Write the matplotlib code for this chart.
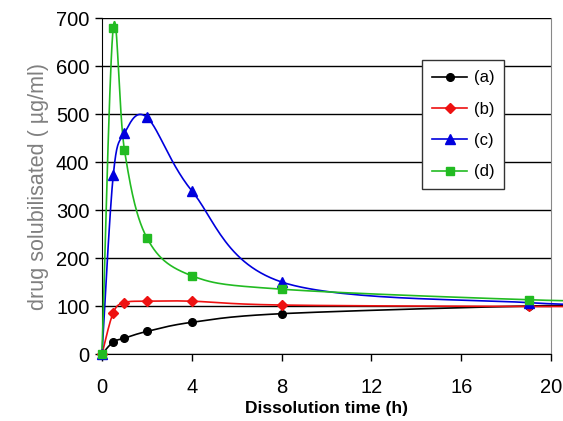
import numpy as np
import matplotlib.pyplot as plt

plt.rcParams["font.family"] = ["Liberation Sans", "DejaVu Sans"]

time_h = [0, 0.5, 1, 2, 4, 8, 19, 24]
sol_a = [0, 25, 33, 47, 66, 84, 100, 101]
sol_b = [0, 86, 107, 110, 110, 102, 99, 99]
sol_c = [0, 372, 460, 493, 340, 150, 107, 104]
sol_d = [0, 680, 425, 242, 163, 135, 113, 110]
labels = ["(a)", "(b)", "(c)", "(d)"]


def smooth(x, y, n=30):
    # excel style smoothed line (bezier through points)
    x = np.asarray(x, float)
    y = np.asarray(y, float)
    px = np.concatenate([[x[0]], x, [x[-1]]])
    py = np.concatenate([[y[0]], y, [y[-1]]])
    xs, ys = [], []
    t = np.linspace(0, 1, n)
    for i in range(1, len(px) - 2):
        p0 = np.array([px[i], py[i]])
        p3 = np.array([px[i + 1], py[i + 1]])
        c1 = p0 + (np.array([px[i + 1], py[i + 1]]) - np.array([px[i - 1], py[i - 1]])) / 6
        c2 = p3 - (np.array([px[i + 2], py[i + 2]]) - np.array([px[i], py[i]])) / 6
        b = (np.outer((1 - t) ** 3, p0) + np.outer(3 * (1 - t) ** 2 * t, c1)
             + np.outer(3 * (1 - t) * t ** 2, c2) + np.outer(t ** 3, p3))
        xs.extend(b[:, 0])
        ys.extend(b[:, 1])
    return xs, ys


fig = plt.figure(figsize=(5.63, 4.21), dpi=100)
ax = fig.add_axes([102 / 563, 1 - 354 / 421, 449 / 563, 336 / 421])

series = [sol_a, sol_b, sol_c, sol_d]
colors = ["black", "#ee1111", "#0000dd", "#22bb22"]
markers = ["o", "D", "^", "s"]
msizes = [5.5, 5, 6.5, 6]
for s, c, m, ms, lab in zip(series, colors, markers, msizes, labels):
    sx, sy = smooth(time_h, s)
    ax.plot(sx, sy, color=c, lw=1.2, clip_on=False, zorder=3)
    ax.plot(time_h, s, ls="none", marker=m, color=c, ms=ms, clip_on=False, zorder=4)
    ax.plot([], [], color=c, marker=m, ms=ms, lw=1.2, label=lab)

ax.set_xlim(0, 20)
ax.set_ylim(0, 700)
ax.set_xticks([0, 4, 8, 12, 16, 20])
ax.set_yticks(range(0, 701, 100))
ax.grid(axis="y", color="black", lw=1)
ax.set_axisbelow(True)
ax.tick_params(labelsize=14.5, direction="out", length=5, width=1)
ax.tick_params(axis="x", pad=12)
ax.tick_params(axis="y", pad=4)
ax.spines["top"].set_visible(False)
ax.spines["right"].set_color("#888888")
ax.set_xlabel("Dissolution time (h)", fontsize=12.5, fontweight="bold", labelpad=3)
ax.set_ylabel("drug solubilisated ( µg/ml)", fontsize=15.5, color="#808080", labelpad=5)

leg = ax.legend(loc="upper left", bbox_to_anchor=(0.713, 0.874), fontsize=12,
                frameon=True, fancybox=False, edgecolor="#333333", framealpha=1,
                handlelength=2.1, borderpad=0.6, labelspacing=0.98, handletextpad=0.4,
                borderaxespad=0)
leg.get_frame().set_linewidth(1)

fig.savefig("out.png", dpi=100)
